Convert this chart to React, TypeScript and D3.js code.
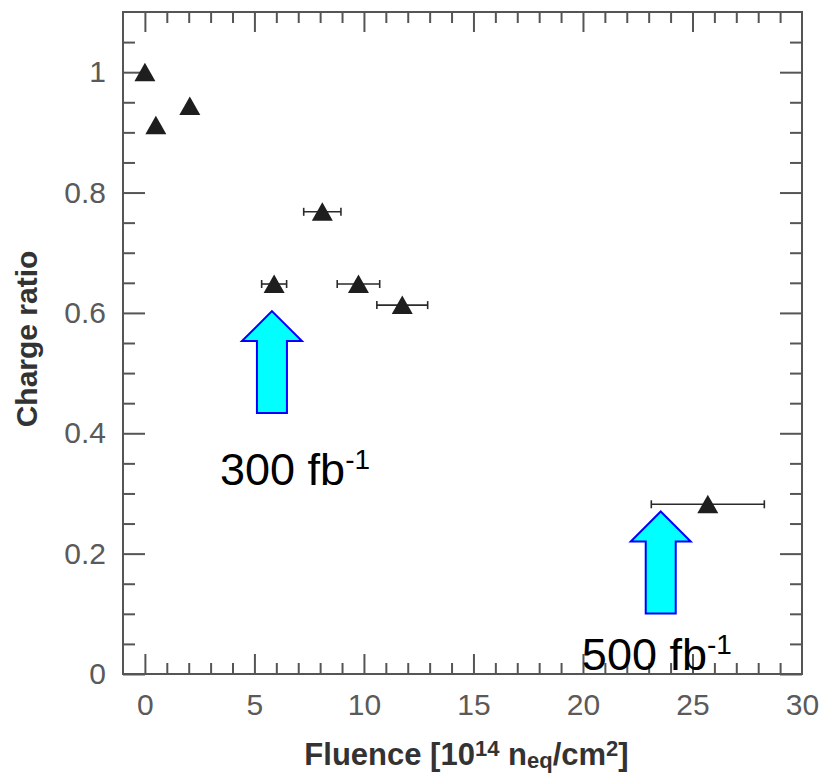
import React, { useEffect, useRef } from "react";
import * as d3 from "d3";

// measured points (fluence in 1e14 neq/cm2)
const fluence = [0, 0.5, 2.05, 5.9, 8.1, 9.75, 11.75, 25.7];
const chargeRatio = [1.0, 0.912, 0.944, 0.648, 0.768, 0.648, 0.613, 0.282];
const fluenceErr = [0, 0, 0, 0.57, 0.85, 0.97, 1.16, 2.58];

const xMajorTicks = [0, 5, 10, 15, 20, 25, 30];
const yMajorTicks = [0, 0.2, 0.4, 0.6, 0.8, 1];
const yTickLabels = ["0", "0.2", "0.4", "0.6", "0.8", "1"];

// luminosity annotations: arrow tip + label anchor, in data units
const arrowTipX = [5.8, 23.55];
const arrowTipY = [0.603, 0.27];
const noteLabels = ["300 fb", "500 fb"];
const noteLabelX = [3.43, 19.95];
const noteLabelY = [0.314, 0.006];

const W = 821;
const H = 773;
const FONT = "'Liberation Sans', Arial, Helvetica, sans-serif";

const App = () => {
  const svgRef = useRef<SVGSVGElement | null>(null);

  useEffect(() => {
    if (!svgRef.current) return;
    const root = d3.select(svgRef.current);
    root.selectAll("*").remove();

    const left = 123, right = 802, top = 12, bottom = 674;
    const x = d3.scaleLinear().domain([-1, 30]).range([left, right]);
    const y = d3.scaleLinear().domain([0, 1.1]).range([bottom, top]);

    const svg = root.attr("width", W).attr("height", H).attr("viewBox", `0 0 ${W} ${H}`);

    svg.append("rect").attr("width", W).attr("height", H).attr("fill", "#fff");

    const xMinor = d3.range(0, 30).filter((v) => v % 5 !== 0);
    const yMinor = d3.range(1, 22).map((i) => +(i * 0.05).toFixed(2)).filter((v, i) => (i + 1) % 4 !== 0);

    const styleAxis = (g: any) => {
      g.select(".domain").remove();
      g.selectAll(".tick line").attr("stroke", "#555").attr("stroke-width", 2);
      g.selectAll("text")
        .attr("fill", "#5a5a5a")
        .style("font-family", FONT)
        .style("font-size", "30px");
    };

    // bottom
    svg.append("g").attr("transform", `translate(0,${bottom})`)
      .call(d3.axisBottom(x).tickValues(xMinor).tickSize(-11).tickFormat(() => ""))
      .call(styleAxis);
    svg.append("g").attr("transform", `translate(0,${bottom})`)
      .call(d3.axisBottom(x).tickValues(xMajorTicks.filter((v) => v < 30)).tickSize(-20).tickPadding(20).tickFormat(d3.format("d")))
      .call(styleAxis);
    // label for 30 sits on the frame
    svg.append("g").attr("transform", `translate(0,${bottom})`)
      .call(d3.axisBottom(x).tickValues([30]).tickSize(0).tickPadding(20).tickFormat(d3.format("d")))
      .call(styleAxis);
    // top
    svg.append("g").attr("transform", `translate(0,${top})`)
      .call(d3.axisTop(x).tickValues(xMinor).tickSize(-11).tickFormat(() => ""))
      .call(styleAxis);
    svg.append("g").attr("transform", `translate(0,${top})`)
      .call(d3.axisTop(x).tickValues(xMajorTicks.filter((v) => v < 30)).tickSize(-20).tickFormat(() => ""))
      .call(styleAxis);

    // left
    svg.append("g").attr("transform", `translate(${left},0)`)
      .call(d3.axisLeft(y).tickValues(yMinor).tickSize(-12).tickFormat(() => ""))
      .call(styleAxis);
    svg.append("g").attr("transform", `translate(${left},0)`)
      .call(d3.axisLeft(y).tickValues(yMajorTicks).tickSize(-22).tickPadding(17)
        .tickFormat((d, i) => yTickLabels[i]))
      .call(styleAxis);
    // right
    svg.append("g").attr("transform", `translate(${right},0)`)
      .call(d3.axisRight(y).tickValues(yMinor).tickSize(-12).tickFormat(() => ""))
      .call(styleAxis);
    svg.append("g").attr("transform", `translate(${right},0)`)
      .call(d3.axisRight(y).tickValues(yMajorTicks).tickSize(-22).tickFormat(() => ""))
      .call(styleAxis);

    // frame
    svg.append("rect")
      .attr("x", left).attr("y", top)
      .attr("width", right - left).attr("height", bottom - top)
      .attr("fill", "none").attr("stroke", "#555").attr("stroke-width", 2);

    const pts = fluence.map((f, i) => ({ f, r: chargeRatio[i], e: fluenceErr[i] }));

    // horizontal error bars
    const eb = svg.append("g").attr("stroke", "#2a2a2a").attr("stroke-width", 1.6);
    pts.filter((p) => p.e > 0).forEach((p) => {
      const x0 = x(p.f - p.e), x1 = x(p.f + p.e), yy = y(p.r);
      eb.append("line").attr("x1", x0).attr("x2", x1).attr("y1", yy).attr("y2", yy);
      eb.append("line").attr("x1", x0).attr("x2", x0).attr("y1", yy - 4).attr("y2", yy + 4);
      eb.append("line").attr("x1", x1).attr("x2", x1).attr("y1", yy - 4).attr("y2", yy + 4);
    });

    // triangle markers
    svg.append("g").selectAll("path")
      .data(pts)
      .join("path")
      .attr("d", "M0,-9.5L10.5,9L-10.5,9Z")
      .attr("transform", (d) => `translate(${x(d.f)},${y(d.r)})`)
      .attr("fill", "#1e1e1e");

    // arrows
    const arrow = "M0,0L30,30L15,30L15,102L-15,102L-15,30L-30,30Z";
    arrowTipX.forEach((ax, i) => {
      svg.append("path")
        .attr("d", arrow)
        .attr("transform", `translate(${x(ax)},${y(arrowTipY[i])})`)
        .attr("fill", "#00ffff")
        .attr("stroke", "#0000ff")
        .attr("stroke-width", 2)
        .attr("stroke-linejoin", "miter");
    });

    // arrow labels
    noteLabels.forEach((lbl, i) => {
      const t = svg.append("text")
        .attr("x", x(noteLabelX[i]))
        .attr("y", y(noteLabelY[i]))
        .attr("fill", "#000")
        .style("font-family", FONT)
        .style("font-size", "45px")
        .text(lbl);
      t.append("tspan").attr("dy", -16).style("font-size", "28px").text("-1");
    });

    // axis titles
    const xt = svg.append("text")
      .attr("x", (left + right) / 2 + 4)
      .attr("y", 765)
      .attr("text-anchor", "middle")
      .attr("fill", "#333")
      .style("font-family", FONT)
      .style("font-size", "31px")
      .style("font-weight", "bold");
    xt.append("tspan").text("Fluence [10");
    xt.append("tspan").attr("dy", -9).style("font-size", "22px").text("14");
    xt.append("tspan").attr("dy", 9).text(" n");
    xt.append("tspan").attr("dy", 3).style("font-size", "22px").text("eq");
    xt.append("tspan").attr("dy", -3).text("/cm");
    xt.append("tspan").attr("dy", -9).style("font-size", "22px").text("2");
    xt.append("tspan").attr("dy", 9).text("]");

    svg.append("text")
      .attr("transform", `translate(37,339) rotate(-90)`)
      .attr("text-anchor", "middle")
      .attr("fill", "#333")
      .style("font-family", FONT)
      .style("font-size", "30px")
      .style("font-weight", "bold")
      .text("Charge ratio");
  }, []);

  return (
    <div style={{ position: "absolute", left: 0, top: 0, width: W, height: H }}>
      <svg ref={svgRef} style={{ display: "block" }}></svg>
    </div>
  );
};

export default App;
